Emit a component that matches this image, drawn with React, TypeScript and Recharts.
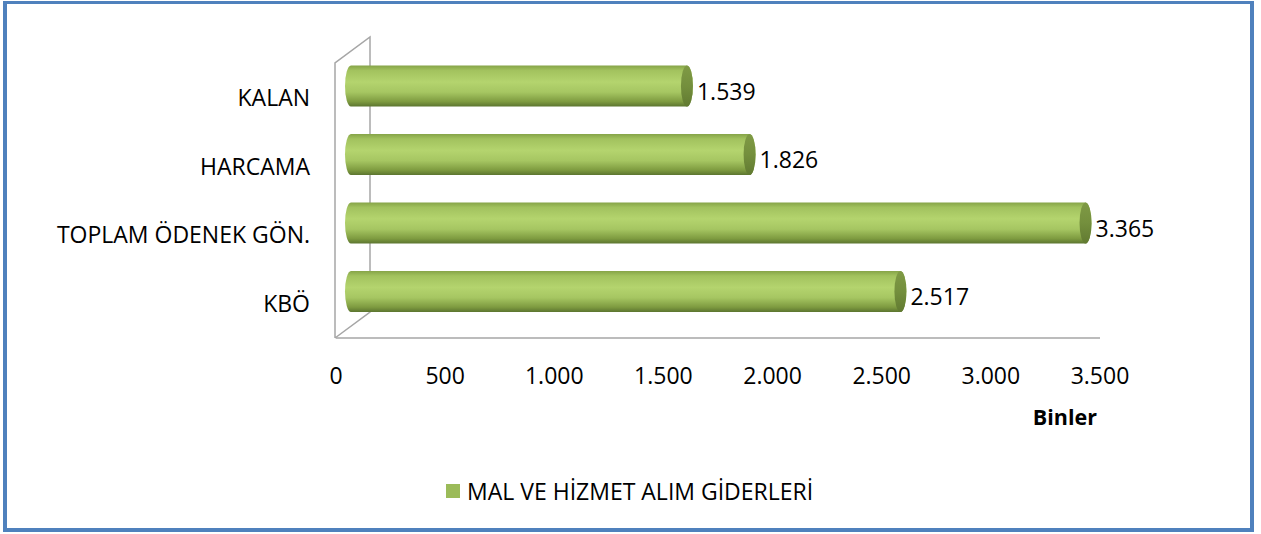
import React from 'react';
import * as R from 'recharts';
import { BarChart, Bar, XAxis, YAxis, LabelList, Legend } from 'recharts';

const categories = ['KALAN', 'HARCAMA', 'TOPLAM ÖDENEK GÖN.', 'KBÖ'];
const values = [1539, 1826, 3365, 2517];
const xTicks = [0, 500, 1000, 1500, 2000, 2500, 3000, 3500];
const seriesName = 'MAL VE HİZMET ALIM GİDERLERİ';
const unitLabel = 'Binler';

const data = categories.map((c, i) => ({ name: c, value: values[i] }));

const FONT = '"Open Sans", Lato, sans-serif';
const FS = 23;
const W = 1261;
const H = 534;
const MARGIN = { top: 64, right: 161, bottom: 106, left: 16 };
const YAXIS_W = 320;
const XAXIS_H = 90;
const DEPTH_X = 35;
const DEPTH_Y = -26;
const BAR_DX = 15;
const BAR_DY = -12.5;
const BAR_SIZE = 41;

const fmt = (n: number) => String(n).replace(/\B(?=(\d{3})+(?!\d))/g, '.');

const Cylinder = (props: any) => {
  const { x, y, width, height } = props;
  if (width == null || height == null) return null;
  const x0 = x + BAR_DX;
  const x1 = x + width + BAR_DX;
  const yt = y + BAR_DY;
  const yb = yt + height;
  const rx = 6;
  const ry = height / 2;
  const d = `M${x0},${yt} L${x1},${yt} A${rx},${ry} 0 0 1 ${x1},${yb} L${x0},${yb} A${rx},${ry} 0 0 1 ${x0},${yt} Z`;
  return (
    <g>
      <path d={d} fill="url(#cylGrad)" />
      <ellipse cx={x1} cy={yt + ry} rx={rx} ry={ry} fill="url(#capGrad)" />
    </g>
  );
};

const ValueLabel = (props: any) => {
  const { x, y, width, height, value } = props;
  return (
    <text
      x={x + width + 25}
      y={y + height / 2 + 1}
      fontFamily={FONT}
      fontSize={FS}
      fill="#000"
    >
      {fmt(value)}
    </text>
  );
};

const Wall = () => {
  const hook = (R as any).usePlotArea;
  const pa = hook ? hook() : null;
  const px = pa ? pa.x : MARGIN.left + YAXIS_W;
  const py = pa ? pa.y : MARGIN.top;
  const ph = pa ? pa.height : H - MARGIN.top - MARGIN.bottom - XAXIS_H;
  const bx = px - 1;
  const by = py + ph;
  const topY = py - 1;
  const pts = [
    [bx, by],
    [bx, topY],
    [bx + DEPTH_X, topY + DEPTH_Y],
    [bx + DEPTH_X, by + DEPTH_Y],
    [bx, by],
  ]
    .map((p) => p.join(','))
    .join(' ');
  return <polyline points={pts} fill="none" stroke="#a6a6a6" strokeWidth={1.5} />;
};

const LegendContent = () => (
  <div style={{ display: 'flex', alignItems: 'center', fontFamily: FONT, fontSize: FS, lineHeight: '30px', color: '#000', whiteSpace: 'nowrap' }}>
    <span style={{ display: 'inline-block', width: 14, height: 14, background: '#9bbb59', marginRight: 7 }} />
    <span>{seriesName}</span>
  </div>
);

export default function App() {
  return (
    <div style={{ position: 'absolute', left: 0, top: 0, width: W, height: H, background: '#fff' }}>
      <BarChart
        width={W}
        height={H}
        data={data}
        layout="vertical"
        margin={MARGIN}
        barSize={BAR_SIZE}
      >
        <defs>
          <linearGradient id="cylGrad" x1="0" y1="0" x2="0" y2="1">
            <stop offset="0%" stopColor="#86a448" />
            <stop offset="12%" stopColor="#a2c25e" />
            <stop offset="40%" stopColor="#b4d46e" />
            <stop offset="65%" stopColor="#a6c662" />
            <stop offset="88%" stopColor="#7e9b40" />
            <stop offset="100%" stopColor="#5c7530" />
          </linearGradient>
          <linearGradient id="capGrad" x1="0" y1="0" x2="0" y2="1">
            <stop offset="0%" stopColor="#7f9a45" />
            <stop offset="50%" stopColor="#748f3d" />
            <stop offset="100%" stopColor="#617a31" />
          </linearGradient>
        </defs>
        <XAxis
          type="number"
          domain={[0, 3500]}
          ticks={xTicks}
          tickFormatter={fmt}
          height={XAXIS_H}
          axisLine={{ stroke: '#a6a6a6', strokeWidth: 1.5 }}
          tickLine={false}
          tickSize={0}
          tickMargin={30}
          tick={{ fontFamily: FONT, fontSize: FS, fill: '#000' }}
          interval={0}
          label={{
            value: unitLabel,
            position: 'insideBottomRight',
            offset: 3,
            style: { fontFamily: FONT, fontSize: 21.5, fontWeight: 700, fill: '#000' },
          }}
        />
        <YAxis
          type="category"
          dataKey="name"
          width={YAXIS_W}
          axisLine={false}
          tickLine={false}
          tickSize={0}
          tickMargin={26}
          interval={0}
          tick={{ fontFamily: FONT, fontSize: FS, fill: '#000' }}
        />
        <Legend
          layout="vertical"
          align="center"
          verticalAlign="middle"
          content={<LegendContent />}
          wrapperStyle={{ position: 'absolute', left: 446, top: 476, width: 420 }}
        />
        <Bar dataKey="value" name={seriesName} shape={<Cylinder />} isAnimationActive={false}>
          <LabelList dataKey="value" content={<ValueLabel />} />
        </Bar>
        <Wall />
      </BarChart>
      <div
        style={{
          position: 'absolute',
          left: 3,
          top: 1,
          width: 1251,
          height: 531,
          boxSizing: 'border-box',
          borderStyle: 'solid',
          borderColor: '#4f81bd',
          borderWidth: '3px 4px 4px 4px',
          pointerEvents: 'none',
        }}
      />
    </div>
  );
}
